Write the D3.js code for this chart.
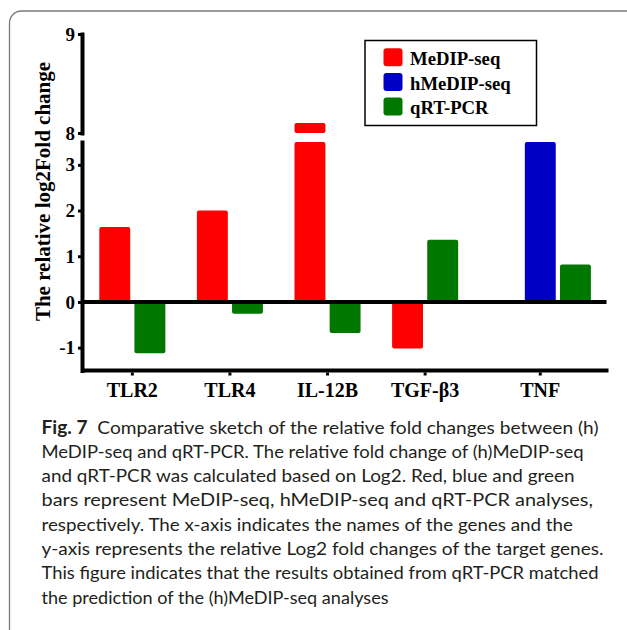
<!DOCTYPE html>
<html>
<head>
<meta charset="utf-8">
<script src="https://cdn.jsdelivr.net/npm/d3@7"></script>
<style>
  body { margin: 0; background: #fff; }
  svg { display: block; }
</style>
</head>
<body>
<svg id="fig" width="627" height="630"></svg>
<script>
// ---- data ----
const genes = ["TLR2", "TLR4", "IL-12B", "TGF-β3", "TNF"];
const medipSeq  = [1.64, 2.0, 8.1, -1.02, null];
const hmedipSeq = [null, null, null, null, 3.5];
const qrtPcr    = [-1.12, -0.26, -0.68, 1.36, 0.82];
const seriesNames  = ["MeDIP-seq", "hMeDIP-seq", "qRT-PCR"];
const seriesColors = ["#ff0000", "#0000c4", "#007800"];
const lowerTicks = [-1, 0, 1, 2, 3];
const upperTicks = [8, 9];
const yTitle = "The relative log2Fold change";
const captionLabel = "Fig. 7";
const captionLines = [
  "Comparative sketch of the relative fold changes between (h)",
  "MeDIP-seq and qRT-PCR. The relative fold change of (h)MeDIP-seq",
  "and qRT-PCR was calculated based on Log2. Red, blue and green",
  "bars represent MeDIP-seq, hMeDIP-seq and qRT-PCR analyses,",
  "respectively. The x-axis indicates the names of the genes and the",
  "y-axis represents the relative Log2 fold changes of the target genes.",
  "This figure indicates that the results obtained from qRT-PCR matched",
  "the prediction of the (h)MeDIP-seq analyses"
];
const captionWidths = [557, 542, 533, 551.5, 531.5, 562, 557, 347];

const series = [medipSeq, hmedipSeq, qrtPcr];

// ---- layout ----
const svg = d3.select("#fig");
const serif = "'Liberation Serif', 'Times New Roman', serif";
const axisX = 82;
const tickFmt = d => (d < 0 ? "-" + Math.abs(d) : String(d));

// panel frame
svg.append("rect")
  .attr("x", 9.5).attr("y", 11).attr("width", 680).attr("height", 680)
  .attr("rx", 12).attr("fill", "none")
  .attr("stroke", "#7a7a7a").attr("stroke-width", 1.3);

// broken value axis: lower band and upper band
const lowDomain = [-1.5, 3.5];
const highDomain = [8, 9];
const yLow = d3.scaleLinear().domain(lowDomain).range([370.5, 142]);
const yHigh = d3.scaleLinear().domain(highDomain).range([133, 34]);

const x = d3.scaleBand().domain(genes).range([99.3, 587.3]).paddingInner(0).paddingOuter(0);
const slotStep = x.step() * 0.36;
const barW = slotStep * 0.88;

function slotsFor(i) {
  return hmedipSeq[i] != null ? [0, 1, 2] : [0, 2];
}
function groupCenter(g, i) {
  const n = slotsFor(i).length;
  return x(g) + (n * slotStep - (slotStep - barW)) / 2;
}

// bars
const barData = [];
genes.forEach((g, i) => {
  slotsFor(i).forEach((s, k) => {
    const v = series[s][i];
    if (v == null) return;
    barData.push({ gene: g, i, s, k, v });
  });
});

const bars = svg.append("g");
barData.forEach(d => {
  const x0 = x(d.gene) + d.k * slotStep;
  const vLow = Math.max(lowDomain[0], Math.min(lowDomain[1], d.v));
  const y0 = yLow(0), y1 = yLow(vLow);
  bars.append("rect")
    .attr("x", x0).attr("width", barW)
    .attr("y", Math.min(y0, y1)).attr("height", Math.abs(y1 - y0))
    .attr("rx", 2).attr("fill", seriesColors[d.s]);
  if (d.v > highDomain[0]) {
    const vHigh = Math.min(highDomain[1], d.v);
    bars.append("rect")
      .attr("x", x0).attr("width", barW)
      .attr("y", yHigh(vHigh)).attr("height", yHigh(highDomain[0]) - yHigh(vHigh))
      .attr("rx", 2).attr("fill", seriesColors[d.s]);
  }
});

// zero line
svg.append("line")
  .attr("x1", axisX).attr("x2", 606.5)
  .attr("y1", yLow(0)).attr("y2", yLow(0))
  .attr("stroke", "#000").attr("stroke-width", 4);

// x axis line + ticks
const xAxisY = yLow(lowDomain[0]);
svg.append("line")
  .attr("x1", axisX).attr("x2", 608.5)
  .attr("y1", xAxisY).attr("y2", xAxisY)
  .attr("stroke", "#000").attr("stroke-width", 4);

const xt = svg.append("g");
genes.forEach((g, i) => {
  const cx = groupCenter(g, i);
  xt.append("line")
    .attr("x1", cx).attr("x2", cx)
    .attr("y1", xAxisY + 2).attr("y2", xAxisY + 5)
    .attr("stroke", "#000").attr("stroke-width", 3);
  xt.append("text")
    .attr("x", cx).attr("y", 397)
    .attr("text-anchor", "middle")
    .attr("font-family", serif).attr("font-weight", "bold").attr("font-size", 20)
    .text(g);
});

// y axes
function styleAxis(g) {
  g.select(".domain").attr("stroke-width", 4).attr("stroke-linecap", "square");
  g.selectAll(".tick line").attr("stroke-width", 3);
  g.selectAll(".tick text")
    .attr("font-family", serif).attr("font-weight", "bold").attr("font-size", 19)
    .attr("fill", "#000");
}
const lowAxis = svg.append("g").attr("transform", `translate(${axisX},0)`)
  .call(d3.axisLeft(yLow).tickValues(lowerTicks).tickFormat(tickFmt)
    .tickSize(4).tickSizeOuter(0).tickPadding(3));
styleAxis(lowAxis);
const highAxis = svg.append("g").attr("transform", `translate(${axisX},0)`)
  .call(d3.axisLeft(yHigh).tickValues(upperTicks).tickFormat(tickFmt)
    .tickSize(4).tickSizeOuter(0).tickPadding(3));
styleAxis(highAxis);

// y title
svg.append("text")
  .attr("transform", "translate(42.5,191.5) rotate(-90)")
  .attr("text-anchor", "middle").attr("dominant-baseline", "central")
  .attr("font-family", serif).attr("font-weight", "bold").attr("font-size", 21)
  .text(yTitle);

// legend
const lg = svg.append("g");
lg.append("rect")
  .attr("x", 365).attr("y", 40.5).attr("width", 171.5).attr("height", 85)
  .attr("fill", "#fff").attr("stroke", "#000").attr("stroke-width", 1.5);
seriesNames.forEach((name, j) => {
  const top = 48.3 + j * 24.6;
  lg.append("rect")
    .attr("x", 383.5).attr("y", top).attr("width", 19).attr("height", 18)
    .attr("rx", 3).attr("fill", seriesColors[j]);
  lg.append("text")
    .attr("x", 410).attr("y", top + 16.7)
    .attr("font-family", serif).attr("font-weight", "bold").attr("font-size", 18.7)
    .text(name);
});

// caption
const cap = svg.append("g")
  .attr("font-family", "Lato, 'Open Sans', sans-serif").attr("font-size", 18)
  .attr("fill", "#231f20");
captionLines.forEach((line, k) => {
  const t = cap.append("text")
    .attr("x", 41.5).attr("y", 433.5 + k * 24.3)
    .attr("textLength", captionWidths[k]).attr("lengthAdjust", "spacingAndGlyphs");
  if (k === 0) {
    t.append("tspan").attr("font-weight", "bold").text(captionLabel);
    t.append("tspan").text("\u00a0\u00a0" + line);
  } else {
    t.text(line);
  }
});
</script>
</body>
</html>
